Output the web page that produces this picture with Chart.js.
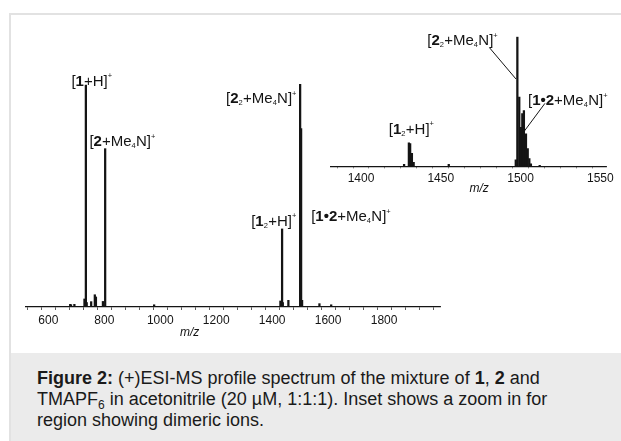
<!DOCTYPE html>
<html><head><meta charset="utf-8">
<script src="https://cdn.jsdelivr.net/npm/chart.js@4.4.1/dist/chart.umd.min.js"></script>
<style>
html,body{margin:0;padding:0;background:#fff;}
body{width:621px;height:441px;position:relative;overflow:hidden;font-family:"Liberation Sans",Arial,sans-serif;}
#frame{position:absolute;left:9px;top:13px;width:640px;height:460px;border-left:2px solid #e2e2e2;border-top:2px solid #e2e2e2;}
#main{position:absolute;left:0;top:0;}
#inset{position:absolute;left:320px;top:20px;}
#caption{position:absolute;left:11px;top:353px;width:610px;height:88px;background:#ebebeb;color:#1a1a1a;font-size:18px;line-height:21px;}
#caption div{position:absolute;left:26px;top:15px;white-space:nowrap;}
sub{font-size:12px;line-height:0;vertical-align:-4px;}
</style></head>
<body>
<div id="frame"></div>
<canvas id="main" width="621" height="353"></canvas>
<canvas id="inset" width="301" height="175"></canvas>
<div id="caption"><div><b>Figure 2:</b> (+)ESI-MS profile spectrum of the mixture of <b>1</b>, <b>2</b> and<br>TMAPF<sub>6</sub> in acetonitrile (20 µM, 1:1:1). Inset shows a zoom in for<br>region showing dimeric ions.</div></div>
<script>
// ---- main spectrum data (m/z, relative intensity) ----
const mainMz  = [678, 681, 693, 729, 734, 737, 753, 766, 770, 795, 803, 978, 1429.5, 1435.5, 1438, 1458, 1500, 1503.5, 1507, 1569, 1611];
const mainInt = [1.2, 1.0, 1.2, 3.6, 99.5, 2.0, 2.4, 5.5, 4.5, 2.5, 71, 1.0, 2.7, 35, 2.0, 3.0, 100, 80, 3.0, 1.5, 1.0];
const mainTickLabels = [600, 800, 1000, 1200, 1400, 1600, 1800];

// ---- inset spectrum data ----
const insetMz  = [1427, 1430, 1430.8, 1431.9, 1433, 1455, 1497, 1498, 1499.2, 1500.2, 1501.1, 1502.1, 1503.4, 1504.5, 1505.5, 1506.5, 1512];
const insetInt = [1.5, 18.2, 17.5, 10, 3, 1.5, 5, 100, 53.5, 30, 40.6, 43, 25, 13.6, 6, 2, 0.8];
const insetTickLabels = [1400, 1450, 1500, 1550];

const FONT = '"Liberation Sans", Arial, Helvetica, sans-serif';
const INK = '#141414';

// label segments: [text, style]
const L_1H   = [['['],['1','b'],['+H]'],['+','sup']];
const L_2Me  = [['['],['2','b'],['+Me'],['4','sub'],['N]'],['+','sup']];
const L_22Me = [['['],['2','b'],['2','sub'],['+Me'],['4','sub'],['N]'],['+','sup']];
const L_12H  = [['['],['1','b'],['2','sub'],['+H]'],['+','sup']];
const L_12Me = [['['],['1•2','b'],['+Me'],['4','sub'],['N]'],['+','sup']];

function drawRich(ctx, segs, cx, baseY, size){
  const parts = segs.map(([t, st]) => {
    const small = st === 'sub' || st === 'sup';
    const fs = small ? size*0.5 : size;
    const font = (st === 'b' ? 'bold ' : '') + fs + 'px ' + FONT;
    ctx.font = font;
    return {t, st, font, w: ctx.measureText(t).width};
  });
  const total = parts.reduce((a,p)=>a+p.w,0);
  let x = cx - total/2;
  ctx.textAlign = 'left'; ctx.textBaseline = 'alphabetic'; ctx.fillStyle = INK;
  for (const p of parts){
    ctx.font = p.font;
    let y = baseY;
    if (p.st === 'sub') y += size*0.15;
    if (p.st === 'sup') y -= size*0.48;
    ctx.fillText(p.t, x, y);
    x += p.w + (p.st==='sup'||p.st==='sub' ? 0.3 : 0);
  }
}

function overlay(cfg){
  return {
    id: 'overlay',
    afterDraw(chart){
      const {ctx, scales:{x, y}} = chart;
      ctx.save();
      for (const l of cfg.labels){
        drawRich(ctx, l.segs, x.getPixelForValue(l.x), y.getPixelForValue(l.y), cfg.size);
      }
      ctx.strokeStyle = INK; ctx.lineWidth = 1;
      for (const ln of (cfg.leaders||[])){
        ctx.beginPath();
        ctx.moveTo(x.getPixelForValue(ln[0]), y.getPixelForValue(ln[1]));
        ctx.lineTo(x.getPixelForValue(ln[2]), y.getPixelForValue(ln[3]));
        ctx.stroke();
      }
      ctx.font = 'italic 12px ' + FONT; ctx.fillStyle = INK;
      ctx.textAlign = 'center'; ctx.textBaseline = 'middle';
      ctx.fillText('m/z', x.getPixelForValue(cfg.titleX), y.bottom + cfg.titleDy);
      ctx.restore();
    }
  };
}

function makeChart(id, mz, inten, ticks, opt){
  const data = mz.map((m,i)=>({x:m, y:inten[i]}));
  return new Chart(document.getElementById(id), {
    type: 'bar',
    data: { datasets: [{ data, backgroundColor: INK, borderWidth: 0, barThickness: opt.bar, grouped:false }] },
    options: {
      responsive: false, animation: false, events: [],
      layout: { padding: opt.pad },
      plugins: { legend:{display:false}, tooltip:{enabled:false} },
      scales: {
        x: {
          type: 'linear', min: opt.min, max: opt.max, offset: false,
          afterFit: s => { s.height = opt.axisH; },
          border: { display: true, color: INK, width: 1.3 },
          grid: { display: true, drawOnChartArea: false, drawTicks: true, tickLength: opt.tickLen, color: '#333', lineWidth: 0.8 },
          ticks: { stepSize: opt.step, includeBounds: false, autoSkip: false, maxRotation: 0, padding: 3, color: INK,
                   font: { family: FONT, size: 12 },
                   callback: v => ticks.includes(v) ? String(v) : '' }
        },
        y: { display: false, min: 0, max: 100 }
      }
    },
    plugins: [overlay(opt.overlay)]
  });
}

makeChart('main', mainMz, mainInt, mainTickLabels, {
  min: 520, max: 2000, step: 50, bar: 1.6, tickLen: 3, axisH: 40,
  pad: { left: 26, right: 181, top: 84, bottom: 6 },
  overlay: {
    size: 15, titleX: 1105, titleDy: 26,
    labels: [
      { segs: L_1H,   x: 755,  y: 99.3 },
      { segs: L_2Me,  x: 864,  y: 72.2 },
      { segs: L_22Me, x: 1360, y: 91.5 },
      { segs: L_12H,  x: 1405, y: 36.5 },
      { segs: L_12Me, x: 1681, y: 38.6 }
    ]
  }
});

makeChart('inset', insetMz, insetInt, insetTickLabels, {
  min: 1381, max: 1554, step: 10, bar: 1.6, tickLen: 2, axisH: 26,
  pad: { left: 10.7, right: 14.3, top: 16.7, bottom: 2.7 },
  overlay: {
    size: 15, titleX: 1474, titleDy: 22,
    labels: [
      { segs: L_22Me, x: 1463.4, y: 93.6 },
      { segs: L_12Me, x: 1529.5, y: 47.3 },
      { segs: L_12H,  x: 1431.5, y: 25.3 }
    ],
    leaders: [
      [1480.6, 91.4, 1497.1, 67.4],
      [1515.3, 48.6, 1502.1, 26.7]
    ]
  }
});
</script>
</body></html>
